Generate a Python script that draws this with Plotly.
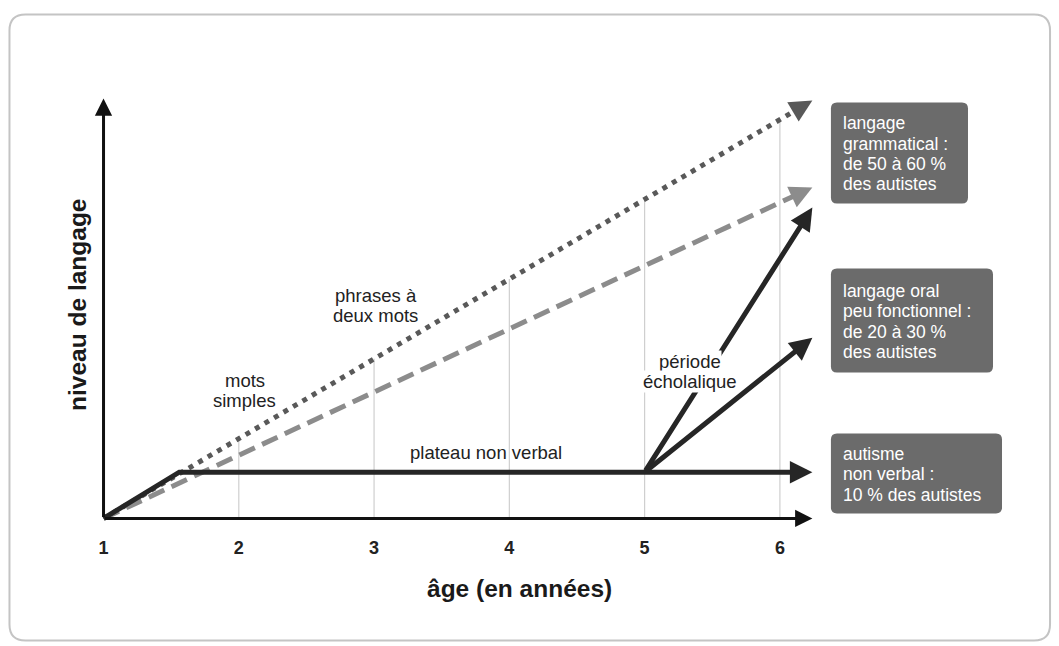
import plotly.graph_objects as go
import math

# ---------------- data ----------------
ages = [1, 2, 3, 4, 5, 6]
tick_labels = ["1", "2", "3", "4", "5", "6"]

# langage grammatical (dotted) and langage oral (dashed) trajectories
dotted_x = [1.0, 6.24]
dotted_y = [0.0, 99.5]
dashed_x = [1.0, 6.24]
dashed_y = [0.0, 78.8]

# non-verbal plateau (solid black)
plateau_x = [1.0, 1.56, 6.24]
plateau_y = [0.0, 11.0, 11.0]

# branches out of the écholalique period
branch_start = (5.0, 11.0)
branch_ends_x = [6.24, 6.24]
branch_ends_y = [74.0, 43.0]

# light vertical guides (from axis up to dotted line)
grid_x = [2, 3, 4, 5, 6]
grid_top = [19.0, 38.0, 57.0, 76.0, 95.0]

axis_x_end = 6.24
axis_y_end = 100.0

box_texts = [
    ["langage", "grammatical :", "de 50 à 60 %", "des autistes"],
    ["langage oral", "peu fonctionnel :", "de 20 à 30 %", "des autistes"],
    ["autisme", "non verbal :", "10 % des autistes"],
]
stage_labels = [["mots", "simples"], ["phrases à", "deux mots"], ["plateau non verbal"],
                ["période", "écholalique"]]
x_title = "âge (en années)"
y_title = "niveau de langage"

# ---------------- layout geometry ----------------
W, H = 1059, 646
X0, X1 = 0.9, 6.4
Y0, Y1 = -3.0, 102.0
PXX = 135.2   # px per year
PXY = 4.2     # px per unit of level
ORIGIN_PX = (104, 518)
left = ORIGIN_PX[0] - (1 - X0) * PXX
right = ORIGIN_PX[0] + (X1 - 1) * PXX
top = ORIGIN_PX[1] - Y1 * PXY
bottom = ORIGIN_PX[1] - Y0 * PXY
PW, PH = right - left, bottom - top


def px_paper(px):
    return (px - left) / PW


def py_paper(py):
    return (bottom - py) / PH


def rrect(x0, y0, x1, y1, r):
    def P(px, py):
        return f"{px_paper(px):.5f},{py_paper(py):.5f}"
    return (f"M{P(x0 + r, y0)} L{P(x1 - r, y0)} Q{P(x1, y0)} {P(x1, y0 + r)} "
            f"L{P(x1, y1 - r)} Q{P(x1, y1)} {P(x1 - r, y1)} L{P(x0 + r, y1)} "
            f"Q{P(x0, y1)} {P(x0, y1 - r)} L{P(x0, y0 + r)} Q{P(x0, y0)} {P(x0 + r, y0)} Z")


def back_offset(xa, ya, xb, yb, L):
    dx = (xb - xa) * PXX
    dy = -(yb - ya) * PXY
    n = math.hypot(dx, dy)
    return -dx / n * L, -dy / n * L


def shorten(xa, ya, xb, yb, L):
    dx = (xb - xa) * PXX
    dy = (yb - ya) * PXY
    n = math.hypot(dx, dy)
    f = (n - L) / n
    return xa + (xb - xa) * f, ya + (yb - ya) * f


FONT = "Liberation Sans, Arial, Helvetica, sans-serif"
BLACK = "#262626"
DOT_C = "#595959"
DASH_C = "#8c8c8c"

fig = go.Figure()

sx, sy = shorten(dotted_x[0], dotted_y[0], dotted_x[1], dotted_y[1], 9)
fig.add_trace(go.Scatter(x=[dotted_x[0], sx], y=[dotted_y[0], sy], mode="lines",
                         line=dict(color=DOT_C, width=5, dash="5px,6px"),
                         hoverinfo="skip", showlegend=False))
sx, sy = shorten(dashed_x[0], dashed_y[0], dashed_x[1], dashed_y[1], 9)
fig.add_trace(go.Scatter(x=[dashed_x[0], sx], y=[dashed_y[0], sy], mode="lines",
                         line=dict(color=DASH_C, width=5, dash="17px,8px"),
                         hoverinfo="skip", showlegend=False))
sx, sy = shorten(plateau_x[-2], plateau_y[-2], plateau_x[-1], plateau_y[-1], 9)
fig.add_trace(go.Scatter(x=plateau_x[:-1] + [sx], y=plateau_y[:-1] + [sy], mode="lines",
                         line=dict(color=BLACK, width=5),
                         hoverinfo="skip", showlegend=False))

shapes = []
for gx, gt in zip(grid_x, grid_top):
    shapes.append(dict(type="line", xref="x", yref="y", x0=gx, x1=gx, y0=0, y1=gt,
                       line=dict(color="#cfcfcf", width=1.2), layer="below"))
shapes.append(dict(type="path", xref="paper", yref="paper", path=rrect(10, 14, 1050, 640, 16),
                   line=dict(color="#c4c4c4", width=2), fillcolor="rgba(0,0,0,0)", layer="below"))
box_px = [(831, 102, 968, 203), (831, 268, 993, 372), (831, 433, 1002, 513)]
for (bx0, by0, bx1, by1) in box_px:
    shapes.append(dict(type="path", xref="paper", yref="paper", path=rrect(bx0, by0, bx1, by1, 6),
                       line=dict(width=0), fillcolor="#6b6b6b", layer="above"))

annotations = []
for (tx, ty) in [(axis_x_end, 0), (1, axis_y_end)]:
    annotations.append(dict(x=tx, y=ty, ax=1, ay=0, xref="x", yref="y", axref="x", ayref="y",
                            text="", showarrow=True, arrowhead=2, arrowsize=1.15, arrowwidth=3,
                            arrowcolor="#111111"))
for ex, ey in zip(branch_ends_x, branch_ends_y):
    annotations.append(dict(x=ex, y=ey, ax=branch_start[0], ay=branch_start[1], xref="x", yref="y",
                            axref="x", ayref="y", text="", showarrow=True, arrowhead=2,
                            arrowsize=0.9, arrowwidth=5, arrowcolor=BLACK))
for (xs, ys, col) in [(dotted_x, dotted_y, DOT_C), (dashed_x, dashed_y, DASH_C),
                      (plateau_x[-2:], plateau_y[-2:], BLACK)]:
    ax, ay = back_offset(xs[0], ys[0], xs[1], ys[1], 12)
    annotations.append(dict(x=xs[1], y=ys[1], ax=ax, ay=ay, xref="x", yref="y",
                            text="", showarrow=True, arrowhead=2, arrowsize=0.9,
                            arrowwidth=5, arrowcolor=col))


def add_lines(lines, cx, cy, spacing, anchor, font, bg=None):
    n = len(lines)
    for i, t in enumerate(lines):
        py = cy + (i - (n - 1) / 2) * spacing
        annotations.append(dict(x=px_paper(cx), y=py_paper(py), xref="paper", yref="paper",
                                text=t, showarrow=False, xanchor=anchor, yanchor="middle",
                                font=font, bgcolor=bg, borderpad=0))


label_px = [(245, 390), (376, 305), (486, 452), (690, 371)]
for lines, (lx, ly) in zip(stage_labels, label_px):
    add_lines(lines, lx, ly, 20, "center", dict(family=FONT, size=18.5, color="#222222"),
              bg="white" if lines[0] == "période" else None)

for lines, (bx0, by0, bx1, by1) in zip(box_texts, box_px):
    add_lines(lines, bx0 + 11, (by0 + by1) / 2 + 1, 20.3, "left",
              dict(family=FONT, size=17.5, color="white"))

annotations.append(dict(x=px_paper(520), y=py_paper(588), xref="paper", yref="paper", text=x_title,
                        showarrow=False, xanchor="center", yanchor="middle",
                        font=dict(family=FONT, size=24.5, color="#1a1a1a", weight="bold")))
annotations.append(dict(x=px_paper(78), y=py_paper(305), xref="paper", yref="paper", text=y_title,
                        showarrow=False, xanchor="center", yanchor="middle", textangle=-90,
                        font=dict(family=FONT, size=24.5, color="#1a1a1a", weight="bold")))

fig.update_layout(
    width=W, height=H, autosize=False,
    margin=dict(l=left, r=W - right, t=top, b=H - bottom, pad=0),
    paper_bgcolor="white", plot_bgcolor="white",
    shapes=shapes, annotations=annotations, showlegend=False,
    xaxis=dict(range=[X0, X1], tickvals=ages, ticktext=tick_labels, showgrid=False,
               zeroline=False, showline=False, ticks="", ticklabelstandoff=4,
               tickfont=dict(family=FONT, size=18, color="#222222", weight="bold"), fixedrange=True),
    yaxis=dict(range=[Y0, Y1], showgrid=False, zeroline=False, showline=False,
               showticklabels=False, ticks="", fixedrange=True),
)

fig.write_html("out.html", config={"displayModeBar": False},
               post_script="document.body.style.margin='0';")
